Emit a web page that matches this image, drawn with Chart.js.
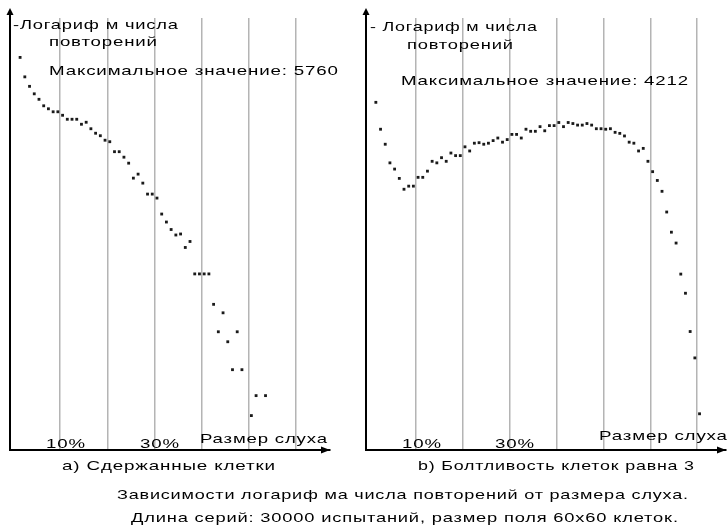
<!DOCTYPE html>
<html><head><meta charset="utf-8">
<script src="https://cdn.jsdelivr.net/npm/chart.js@4"></script>
<style>
html,body{margin:0;padding:0;background:#fff;width:728px;height:526px;overflow:hidden;}
#wrap{position:relative;width:728px;height:526px;}
canvas{position:absolute;top:0;}
.t{position:absolute;white-space:nowrap;font-family:"Liberation Sans",Arial,sans-serif;font-size:13.5px;line-height:15px;color:#000;letter-spacing:0.6px;transform-origin:0 0;}
</style></head><body><div id="wrap">
<canvas id="c1" width="356" height="460" style="left:0px"></canvas>
<canvas id="c2" width="372" height="460" style="left:356px"></canvas>
</div>
<script>
// Rumor size (%) and natural log of repetition count, panel a)
const sizesA = [1,2,3,4,5,6,7,8,9,10,11,12,13,14,15,16,17,18,19,20,21,22,23,24,25,26,27,28,29,30,31,32,33,34,35,36,37,38,39,40,41,42,43,44,45,46,47,48,50,51,53];
const logCountA = [7.87,7.48,7.29,7.14,7.03,6.90,6.84,6.78,6.78,6.71,
                   6.63,6.63,6.63,6.53,6.57,6.44,6.35,6.30,6.21,6.18,
                   5.98,5.98,5.87,5.75,5.45,5.53,5.35,5.13,5.13,5.05,
                   4.73,4.57,4.42,4.31,4.33,4.06,4.18,3.53,3.53,3.53,
                   3.53,2.92,2.37,2.75,2.17,1.61,2.37,1.61,
                   0.69,1.09,1.09];
// panel b)
const sizesB = [1,2,3,4,5,6,7,8,9,10,11,12,13,14,15,16,17,18,19,20,21,22,23,24,25,26,27,28,29,30,31,32,33,34,35,36,37,38,39,40,41,42,43,44,45,46,47,48,49,50,51,52,53,54,55,56,57,58,59,60,61,62,63,64,65,66,67,68,69,70];
const logCountB = [6.72,6.20,5.91,5.55,5.43,5.25,5.04,5.10,5.10,5.27,
                   5.27,5.39,5.58,5.55,5.65,5.58,5.74,5.69,5.69,5.86,
                   5.78,5.93,5.94,5.91,5.93,5.98,6.03,5.95,6.00,6.10,
                   6.10,6.03,6.20,6.16,6.16,6.25,6.17,6.27,6.27,6.33,
                   6.25,6.33,6.31,6.28,6.28,6.31,6.28,6.21,6.21,6.20,
                   6.21,6.14,6.12,6.07,5.95,5.93,5.78,5.83,5.58,5.38,
                   5.21,5.00,4.60,4.21,4.00,3.40,3.03,2.29,1.78,0.70];
const gridSizes = [9.5,19.5,29.5,39.5,49.5,59.5,69.5];
const tickValues = [10, 30];
const tickLabels = ['10%', '30%'];
const maxValueA = 5760, maxValueB = 4212;
const yMaxA = 8.66, yMaxB = 8.35;

const arrowPlugin = { id:'arrows', afterDraw(chart){
  const {ctx, chartArea:{left,right,top,bottom}} = chart;
  ctx.save();
  ctx.fillStyle='#000'; ctx.strokeStyle='#000'; ctx.lineWidth=2;
  ctx.beginPath(); ctx.moveTo(left, top+1); ctx.lineTo(left, top-5); ctx.stroke();
  ctx.beginPath(); ctx.moveTo(left, top-10); ctx.lineTo(left-3.5, top-3); ctx.lineTo(left+3.5, top-3); ctx.closePath(); ctx.fill();
  ctx.beginPath(); ctx.moveTo(right, bottom); ctx.lineTo(right-9, bottom-3.5); ctx.lineTo(right-9, bottom+3.5); ctx.closePath(); ctx.fill();
  ctx.restore();
}};

function makeChart(id, xs, ys, xMin, xMax, yMax, padRight){
  const pts = xs.map((x,i)=>({x:x, y:ys[i]}));
  return new Chart(document.getElementById(id), {
    type:'scatter',
    data:{datasets:[{data:pts, pointStyle:'rect', pointRadius:2, pointHoverRadius:2,
      backgroundColor:'#1a1a1a', borderWidth:0}]},
    options:{
      responsive:false, animation:false, devicePixelRatio:1, events:[],
      layout:{padding:{left:10, top:18, right:padRight, bottom:10}},
      plugins:{legend:{display:false}, tooltip:{enabled:false}},
      scales:{
        x:{type:'linear', min:xMin, max:xMax,
           ticks:{display:false},
           grid:{color:'#b4b4b4', lineWidth:1.5, drawTicks:false},
           border:{display:true, color:'#000', width:2},
           afterBuildTicks:s=>{ s.ticks = gridSizes.filter(v=>v<=xMax).map(v=>({value:v})); },
           afterFit:s=>{ s.height = 0; }},
        y:{type:'linear', min:0, max:yMax,
           ticks:{display:false},
           grid:{display:false, drawTicks:false},
           border:{display:true, color:'#000', width:2},
           afterFit:s=>{ s.width = 0; }}
      }
    },
    plugins:[arrowPlugin]
  });
}

const chartA = makeChart('c1', sizesA, logCountA, -1.14, 66.66, yMaxA, 26);
const chartB = makeChart('c2', sizesB, logCountB, -1.10, 75.64, yMaxB, 0);

const wrap = document.getElementById('wrap');
function addText(txt, left, top, width, center){
  const d = document.createElement('div');
  d.className='t'; d.textContent = txt;
  wrap.appendChild(d);
  const nat = d.getBoundingClientRect().width - 0.6;
  const w = width || nat;
  if (width) d.style.transform = 'scaleX(' + (width/nat) + ')';
  d.style.left = (center ? left - w/2 : left) + 'px';
  d.style.top = (top + 0.5) + 'px';
}

// panel a texts
addText('-Логариф м числа', 13, 16.8, 165);
addText('повторений', 49, 33, 108);
addText('Максимальное значение: ' + maxValueA, 49, 62.3, 289);
addText('Размер слуха', 200, 430.3, 127);
// panel b texts
addText('- Логариф м числа', 370, 18.3, 167);
addText('повторений', 407, 36, 106);
addText('Максимальное значение: ' + maxValueB, 401, 72.8, 287);
addText('Размер слуха', 599, 427.3, 128);
// tick labels
[[chartA,0],[chartB,356]].forEach(([ch,off])=>{
  tickValues.forEach((v,i)=>{
    const cx = ch.scales.x.getPixelForValue(v) + off + 3;
    addText(tickLabels[i], cx, 435.3, 39, true);
  });
});
// captions
addText('a) Сдержанные клетки', 62, 457.6, 213);
addText('b) Болтливость клеток равна 3', 418, 457.6, 276);
addText('Зависимости логариф ма числа повторений от размера слуха.', 117, 486.6, 571);
addText('Длина серий: 30000 испытаний, размер поля 60х60 клеток.', 131, 509.6, 547);
</script>
</body></html>
